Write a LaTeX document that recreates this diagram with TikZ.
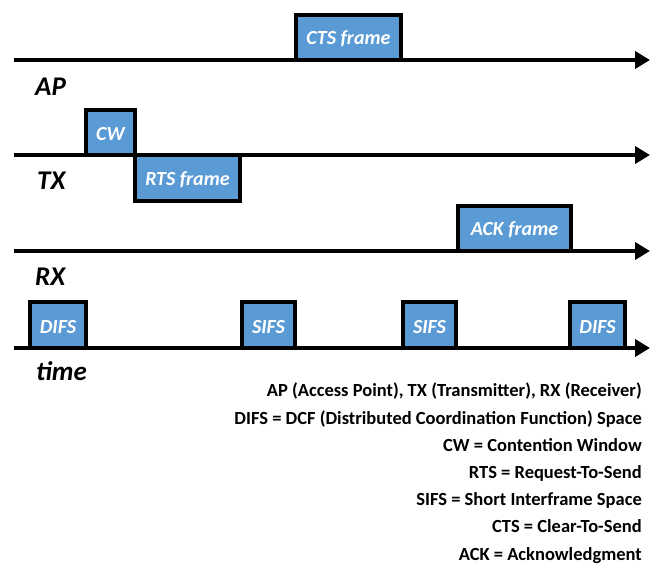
\documentclass[tikz,border=0pt]{standalone}
\usepackage{fontspec}
\setmainfont{Carlito}
\usetikzlibrary{arrows.meta}
\definecolor{boxblue}{RGB}{91,155,213}
\begin{document}
\begin{tikzpicture}[x=1pt,y=-1pt,
  axis/.style={line width=4.5pt,-{Triangle[length=15pt,width=17pt]}},
  frame/.style={line width=4.2pt,fill=boxblue,line join=miter},
  boxtext/.style={text=white,font=\fontsize{20}{22}\selectfont\bfseries\itshape,inner sep=0pt},
  lane/.style={anchor=base west,font=\fontsize{27}{30}\selectfont\bfseries\itshape,inner sep=0pt},
  legend/.style={anchor=base east,font=\fontsize{18.5}{22}\selectfont\bfseries,inner sep=0pt}]
\useasboundingbox (0,0) rectangle (657,569);
% coordinates for axes
\coordinate (apS) at (14,60);   \coordinate (apE) at (650,60);
\coordinate (txS) at (14,155);  \coordinate (txE) at (650,155);
\coordinate (rxS) at (14,251);  \coordinate (rxE) at (650,251);
\coordinate (tmS) at (14,348);  \coordinate (tmE) at (650,348);
% boxes
\filldraw[frame] (296,60) -- (296,15) -- (401,15) -- (401,60);
\node[boxtext] (cts) at (348.5,39) {CTS frame};
\filldraw[frame] (86,155) -- (86,110) -- (135,110) -- (135,155);
\node[boxtext] (cw) at (110.5,134) {CW};
\filldraw[frame] (135,155) -- (135,201) -- (240,201) -- (240,155);
\node[boxtext] (rts) at (187.5,180) {RTS frame};
\filldraw[frame] (458,251) -- (458,206) -- (571,206) -- (571,251);
\node[boxtext] (ack) at (514.5,230) {ACK frame};
\filldraw[frame] (30,348) -- (30,302) -- (86,302) -- (86,348);
\node[boxtext] (d1) at (58,327) {DIFS};
\filldraw[frame] (242,348) -- (242,302) -- (295,302) -- (295,348);
\node[boxtext] (s1) at (268.5,327) {SIFS};
\filldraw[frame] (403,348) -- (403,302) -- (456,302) -- (456,348);
\node[boxtext] (s2) at (429.5,327) {SIFS};
\filldraw[frame] (570,348) -- (570,302) -- (625,302) -- (625,348);
\node[boxtext] (d2) at (597.5,327) {DIFS};
% axes
\draw[axis] (apS) -- (apE);
\draw[axis] (txS) -- (txE);
\draw[axis] (rxS) -- (rxE);
\draw[axis] (tmS) -- (tmE);
% lane labels
\node[lane] (ap) at (35,96) {AP};
\node[lane] (tx) at (37,190) {TX};
\node[lane] (rx) at (35,286) {RX};
\node[lane] (tm) at (36,381) {time};
% legend
\node[legend] (l1) at (642,397) {AP (Access Point), TX (Transmitter), RX (Receiver)};
\node[legend] (l2) at (642,424.2) {DIFS = DCF (Distributed Coordination Function) Space};
\node[legend] (l3) at (642,451.4) {CW = Contention Window};
\node[legend] (l4) at (642,478.6) {RTS = Request-To-Send};
\node[legend] (l5) at (642,505.8) {SIFS = Short Interframe Space};
\node[legend] (l6) at (642,533) {CTS = Clear-To-Send};
\node[legend] (l7) at (642,560.2) {ACK = Acknowledgment};
\end{tikzpicture}
\end{document}
